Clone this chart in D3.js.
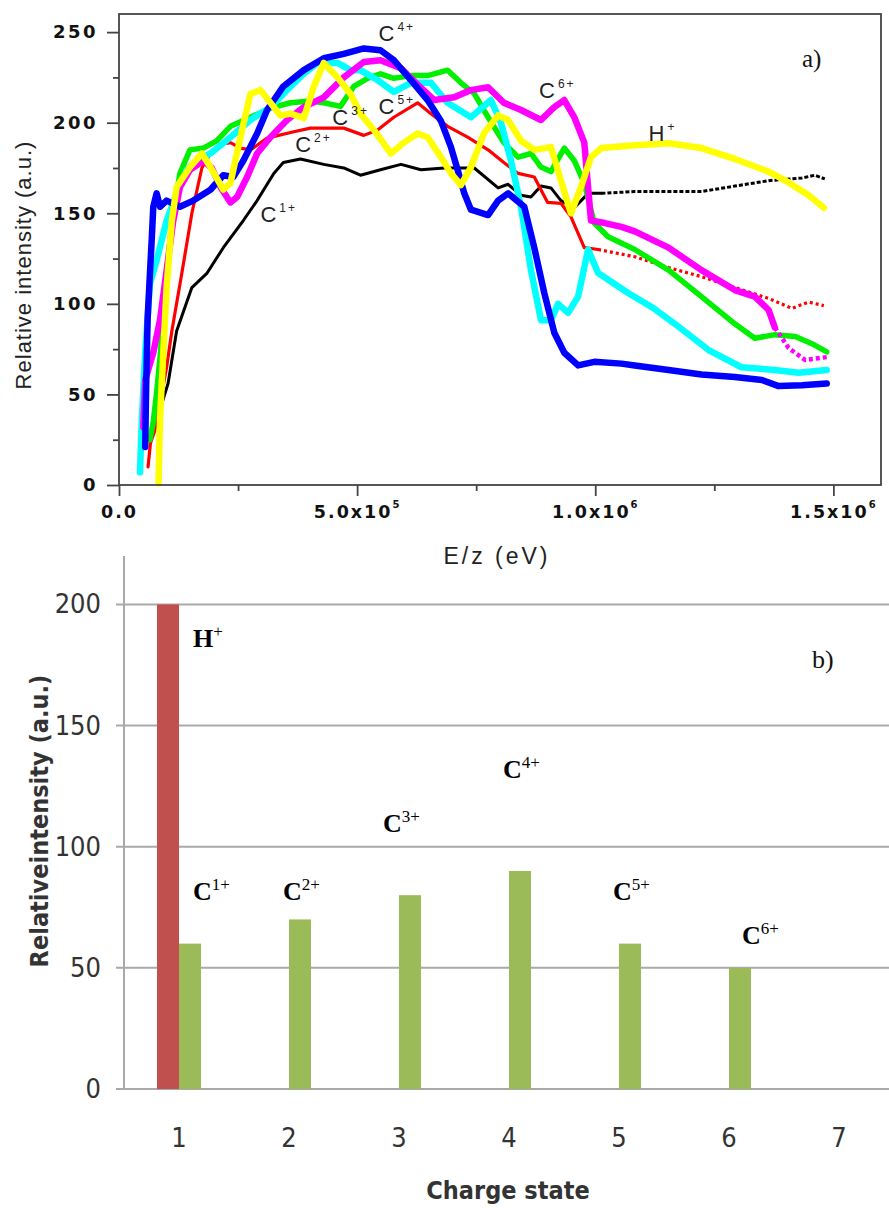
<!DOCTYPE html>
<html><head><meta charset="utf-8">
<script src="https://cdn.jsdelivr.net/npm/d3@7"></script>
<style>body{margin:0;background:#fff}svg{display:block}</style>
</head><body>
<svg id="c" width="889" height="1208"></svg>
<script>
// ================= DATA: panel a (E/z in eV, relative intensity) =================
const seriesNames = ["C1+","C2+","C3+","C4+","C5+","C6+","H+"];
const c1Data = [[79e3,32],[90e3,45],[103e3,56],[121e3,85],[153e3,109],[185e3,117],[219e3,131],[261e3,146],[290e3,157],[325e3,172],[345e3,178],[381e3,180],[430e3,177],[472e3,175],[507e3,171],[549e3,174],[592e3,177],[634e3,174],[683e3,175],[746e3,175],[796e3,164],[817e3,166],[844e3,160],[865e3,159],[886e3,165],[907e3,164],[928e3,157],[956e3,153],[985e3,161],[1013e3,161],[1083e3,162],[1154e3,162],[1223e3,162],[1293e3,165],[1364e3,168],[1434e3,169.5],[1461e3,171],[1482e3,169]];
const c2Data = [[61e3,10],[66e3,23],[75e3,30],[86e3,45],[100e3,65],[111e3,85],[132e3,117],[153e3,150],[174e3,175],[192e3,183],[213e3,188],[234e3,189],[255e3,186],[276e3,185],[311e3,191.5],[367e3,195],[402e3,197],[472e3,197],[514e3,193],[543e3,196],[577e3,203],[627e3,211],[655e3,205],[690e3,198],[732e3,192],[775e3,185],[808e3,178],[838e3,172],[872e3,170],[900e3,156],[928e3,155.5],[949e3,148],[977e3,131],[1006e3,130],[1083e3,126],[1154e3,120],[1223e3,115],[1293e3,109],[1364e3,103],[1413e3,97.5],[1448e3,101],[1480e3,99]];
const c3Data = [[65e3,25],[72e3,35],[79e3,51],[86e3,70],[93e3,91],[100e3,115],[111e3,146],[128e3,172],[149e3,185],[177e3,186],[205e3,190],[234e3,198],[276e3,203],[318e3,208],[360e3,211],[402e3,212],[430e3,211],[465e3,209],[493e3,220],[522e3,224.5],[549e3,227],[577e3,224.5],[613e3,226],[648e3,226],[690e3,229],[718e3,222],[746e3,216],[775e3,203],[808e3,189],[838e3,181],[865e3,183],[886e3,175.5],[907e3,173],[935e3,186],[956e3,179],[977e3,166.5],[998e3,144.6],[1027e3,137],[1083e3,130],[1154e3,118.6],[1223e3,104],[1293e3,89],[1335e3,81],[1377e3,83],[1420e3,82],[1455e3,78],[1486e3,73.5]];
const c4Data = [[55e3,21],[57e3,54],[60e3,91],[65e3,117],[69e3,137],[72e3,153.6],[79e3,161],[86e3,153.6],[100e3,157],[128e3,153.6],[156e3,157],[192e3,163],[219e3,171],[240e3,170],[261e3,179],[290e3,194],[311e3,207],[345e3,220],[388e3,229],[430e3,235.6],[472e3,238],[514e3,241],[549e3,240],[577e3,234.5],[613e3,223.5],[648e3,212.5],[676e3,201],[697e3,186.5],[711e3,174],[725e3,161],[739e3,152],[775e3,149],[796e3,157],[817e3,161],[851e3,153.6],[872e3,131],[893e3,106],[914e3,84],[935e3,73],[964e3,66],[998e3,68],[1055e3,67],[1083e3,66],[1154e3,63.5],[1223e3,61],[1293e3,59.6],[1350e3,58],[1385e3,54.6],[1434e3,55],[1486e3,56]];
const c5Data = [[44e3,7],[48e3,36],[55e3,73],[62e3,100],[65e3,111],[80e3,125],[100e3,146],[121e3,161],[142e3,174],[163e3,179],[192e3,183],[234e3,192],[276e3,201.5],[318e3,208.6],[353e3,218],[388e3,227],[416e3,232.9],[459e3,233],[486e3,229],[507e3,229],[543e3,223.5],[577e3,217],[613e3,222],[655e3,222],[690e3,211],[739e3,203],[781e3,212.5],[802e3,200],[823e3,179],[844e3,153.6],[865e3,118.6],[886e3,91],[907e3,91],[922e3,100],[943e3,95],[964e3,104],[985e3,130],[1006e3,117],[1069e3,106],[1120e3,98],[1167e3,89],[1238e3,74.5],[1307e3,65],[1377e3,63.5],[1427e3,62],[1486e3,63.5]];
const c6Data = [[51e3,32],[55e3,58],[72e3,73],[86e3,91],[100e3,118.6],[114e3,146],[128e3,164.5],[149e3,174],[177e3,179],[195e3,175],[213e3,164.5],[234e3,156],[248e3,159],[269e3,170],[290e3,183],[318e3,192],[353e3,201.5],[388e3,208.6],[430e3,214],[472e3,225],[514e3,233.5],[549e3,234.5],[592e3,230],[627e3,221],[662e3,212.5],[704e3,214],[739e3,218],[775e3,219.6],[808e3,211],[844e3,207],[886e3,201.5],[914e3,208.6],[935e3,212.5],[956e3,203],[977e3,189],[991e3,146],[1020e3,144.6],[1055e3,142.5],[1083e3,140],[1154e3,131],[1223e3,118.6],[1293e3,107.6],[1335e3,104],[1364e3,96.6],[1377e3,87],[1406e3,75.6],[1441e3,69],[1486e3,70.6]];
const hData = [[83e3,1],[86e3,36],[93e3,73],[100e3,109],[111e3,146],[121e3,164.5],[149e3,175.5],[174e3,183],[192e3,175.5],[219e3,163],[234e3,166.7],[255e3,192],[276e3,216],[297e3,218],[318e3,211],[339e3,204],[360e3,205],[388e3,202.5],[409e3,220],[430e3,233],[459e3,225],[486e3,216],[507e3,205],[535e3,196],[571e3,183],[598e3,189],[627e3,194],[648e3,192],[676e3,181],[697e3,172],[718e3,165.6],[739e3,175.5],[766e3,194],[796e3,204],[817e3,201.5],[844e3,190],[872e3,185],[907e3,186.5],[928e3,168],[949e3,150],[970e3,164.5],[991e3,181],[1013e3,186],[1083e3,187.6],[1154e3,188.7],[1223e3,186],[1293e3,180],[1364e3,173],[1406e3,167],[1448e3,160],[1480e3,153]];
const xTicksA = [0, 5e5, 1e6, 1.5e6];
const xMinorA = [2.5e5, 7.5e5, 1.25e6];
const yTicksA = [0, 50, 100, 150, 200, 250];
const yMinorA = [25, 75, 125, 175, 225];
// annotation anchors (data units)
const annotA = [["C","4+",545e3,245],["C","3+",448e3,199],["C","5+",545e3,205],["C","2+",370e3,184],["C","1+",297e3,145],["C","6+",882e3,213.6],["H","+",1112e3,190]];

// ================= DATA: panel b =================
const chargeStates = ["1","2","3","4","5","6","7"];
const hIntensity = [200,0,0,0,0,0,0];
const cIntensity = [60,70,80,90,60,50,0];
const yTicksB = [0,50,100,150,200];
const annotB = [["H","+","1",14,182.6],["C","1+","1",14,78],["C","2+","2",-6,78],["C","3+","3",-16,106],["C","4+","4",-6,128.5],["C","5+","5",-6,78],["C","6+","6",13,60]];

// ================= STYLE =================
const seriesColors = ["#000000","#ff0000","#00f000","#0000ff","#00ffff","#ff00ff","#ffff00"];
const seriesWidths = [3,3.2,5.5,6.5,6.5,6.5,6.5];
const seriesTail = [1013e3,1006e3,null,null,null,1377e3,null];
const drawOrder = [0,1,2,4,5,3,6];

const svg = d3.select("#c");
const sans = "'Liberation Sans', Arial, sans-serif";
const serif = "'Liberation Serif', 'Times New Roman', serif";
const narrow = "'Liberation Sans Narrow', 'DejaVu Sans Condensed', 'Open Sans', sans-serif";

// ---------- panel a ----------
const xA = d3.scaleLinear().domain([0,1.6e6]).range([119,881]);
const yA = d3.scaleLinear().domain([0,260]).range([485,14]);
const gA = svg.append("g");
const allData = [c1Data,c2Data,c3Data,c4Data,c5Data,c6Data,hData];
const line = d3.line().x(d=>xA(d[0])).y(d=>yA(d[1]));
drawOrder.forEach(i=>{
  const d = allData[i], t = seriesTail[i];
  const head = t==null ? d : d.filter(p=>p[0]<=t);
  gA.append("path").attr("d",line(head)).attr("fill","none")
    .attr("stroke",seriesColors[i]).attr("stroke-width",seriesWidths[i])
    .attr("stroke-linejoin","round").attr("stroke-linecap","round");
  if(t!=null){
    const tail = d.filter(p=>p[0]>=t);
    gA.append("path").attr("d",line(tail)).attr("fill","none")
      .attr("stroke",seriesColors[i]).attr("stroke-width",i===5?4.5:seriesWidths[i])
      .attr("stroke-dasharray", i===0?"4,2":(i===1?"3,3":"4,3"));
  }
});
gA.append("rect").attr("x",119).attr("y",14).attr("width",762).attr("height",471)
  .attr("fill","none").attr("stroke","#444").attr("stroke-width",1.8);

const axY = gA.append("g").attr("transform","translate(119,0)")
  .call(d3.axisLeft(yA).tickValues(yTicksA).tickSize(12).tickPadding(9));
gA.append("g").attr("transform","translate(119,0)")
  .call(d3.axisLeft(yA).tickValues(yMinorA).tickSize(6).tickFormat(""));
const axX = gA.append("g").attr("transform","translate(0,485)")
  .call(d3.axisBottom(xA).tickValues(xTicksA).tickSize(11).tickPadding(12).tickFormat(""));
gA.append("g").attr("transform","translate(0,485)")
  .call(d3.axisBottom(xA).tickValues(xMinorA).tickSize(6).tickFormat(""));
gA.selectAll(".domain").remove();
gA.selectAll(".tick line").attr("stroke","#444").attr("stroke-width",1.8);
axY.selectAll(".tick text").attr("font-family","'DejaVu Sans', sans-serif").attr("font-weight","bold")
  .attr("font-size",18).attr("letter-spacing","2.5px").attr("fill","#111");
axX.selectAll(".tick").each(function(v){
  const t = d3.select(this).append("text").attr("y",33).attr("text-anchor","middle")
    .attr("font-family","'DejaVu Sans', sans-serif").attr("font-weight","bold").attr("font-size",17.5)
    .attr("letter-spacing","2px").attr("fill","#111");
  if(v===0){ t.text("0.0"); }
  else {
    const e = Math.floor(Math.log10(v)); const m = v/Math.pow(10,e);
    t.append("tspan").text(m.toFixed(1)+"x10");
    t.append("tspan").attr("dy",-10).attr("font-size",10).text(e);
  }
});
svg.append("text").attr("x",497).attr("y",564).attr("text-anchor","middle")
  .attr("font-family",sans).attr("font-size",23).attr("letter-spacing","3px").attr("fill","#222").text("E/z (eV)");
svg.append("text").attr("transform","translate(31,265) rotate(-90)").attr("text-anchor","middle")
  .attr("font-family",sans).attr("font-size",22).attr("letter-spacing","1px").attr("fill","#222")
  .text("Relative intensity (a.u.)");
annotA.forEach(a=>{
  const t = gA.append("text").attr("x",xA(a[2])).attr("y",yA(a[3]))
    .attr("font-family",sans).attr("font-size",22).attr("fill","#222");
  t.append("tspan").text(a[0]);
  t.append("tspan").attr("dx",3).attr("dy",-10).attr("font-size",12).attr("letter-spacing","2px").text(a[1]);
});
gA.append("text").attr("x",xA(1434e3)).attr("y",yA(230.7)).attr("font-family",serif)
  .attr("font-size",25).attr("fill","#111").text("a)");

// ---------- panel b ----------
const xB = d3.scaleBand().domain(chargeStates).range([124,894]);
const sub = d3.scaleBand().domain(["H","C"]).range([0,xB.bandwidth()]).paddingInner(0).paddingOuter(1.5);
const yB = d3.scaleLinear().domain([0,220]).range([1089,556]);
const gB = svg.append("g");
const gridColor = "#a9a9a9";
gB.selectAll("line.grid").data(yTicksB).join("line").attr("class","grid")
  .attr("x1",116).attr("x2",889).attr("y1",d=>yB(d)).attr("y2",d=>yB(d))
  .attr("stroke",gridColor).attr("stroke-width",2);
gB.append("line").attr("x1",124).attr("x2",124).attr("y1",yB(220)).attr("y2",yB(0))
  .attr("stroke",gridColor).attr("stroke-width",2);
gB.selectAll("rect.h").data(chargeStates.map((c,i)=>({c,v:hIntensity[i]})).filter(d=>d.v>0)).join("rect")
  .attr("x",d=>xB(d.c)+sub("H")).attr("width",sub.bandwidth())
  .attr("y",d=>yB(d.v)).attr("height",d=>yB(0)-yB(d.v)).attr("fill","#c0504d");
gB.selectAll("rect.cb").data(chargeStates.map((c,i)=>({c,v:cIntensity[i]})).filter(d=>d.v>0)).join("rect")
  .attr("x",d=>xB(d.c)+sub("C")).attr("width",sub.bandwidth())
  .attr("y",d=>yB(d.v)).attr("height",d=>yB(0)-yB(d.v)).attr("fill","#9bbb59");
gB.selectAll("text.yt").data(yTicksB).join("text").attr("x",101).attr("y",d=>yB(d)+9)
  .attr("text-anchor","end").attr("font-family",narrow).attr("font-size",27).attr("fill","#333").text(d=>d);
gB.selectAll("text.xt").data(chargeStates).join("text").attr("x",d=>xB(d)+xB.bandwidth()/2).attr("y",1147)
  .attr("text-anchor","middle").attr("font-family",narrow).attr("font-size",27).attr("fill","#333").text(d=>d);
svg.append("text").attr("x",508).attr("y",1199).attr("text-anchor","middle")
  .attr("font-family",narrow).attr("font-weight","bold").attr("font-size",25).attr("fill","#333").text("Charge state");
svg.append("text").attr("transform","translate(48,821) rotate(-90)").attr("text-anchor","middle")
  .attr("font-family",narrow).attr("font-weight","bold").attr("font-size",25).attr("fill","#333").text("Relativeintensity (a.u.)");
annotB.forEach(a=>{
  const t = gB.append("text").attr("x",xB(a[2])+xB.bandwidth()/2+a[3]).attr("y",yB(a[4]))
    .attr("font-family",serif).attr("font-weight","bold").attr("font-size",26).attr("fill","#000");
  t.append("tspan").text(a[0]);
  t.append("tspan").attr("dy",-10).attr("font-size",17).attr("font-weight","normal").text(a[1]);
});
gB.append("text").attr("x",812).attr("y",668).attr("font-family",serif).attr("font-size",26).attr("fill","#111").text("b)");
</script>
</body></html>
